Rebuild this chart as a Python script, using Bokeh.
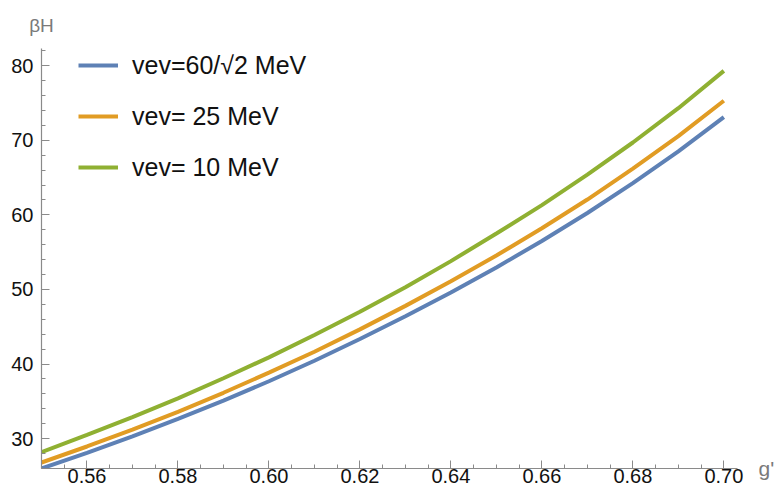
from bokeh.plotting import figure
from bokeh.models import (Range1d, SingleIntervalTicker, NumeralTickFormatter,
                          FixedTicker, LinearAxis, Legend, LegendItem)
from bokeh.embed import file_html
from bokeh.resources import INLINE

# ---- data ----
g_prime = [0.55, 0.56, 0.57, 0.58, 0.59, 0.60, 0.61, 0.62,
           0.63, 0.64, 0.65, 0.66, 0.67, 0.68, 0.69, 0.70]
beta_h_vev_60_sqrt2 = [26.0, 28.1, 30.3, 32.65, 35.1, 37.7, 40.45, 43.35,
                       46.4, 49.6, 52.95, 56.5, 60.25, 64.25, 68.5, 73.1]
beta_h_vev_25 = [26.8, 28.95, 31.2, 33.6, 36.15, 38.85, 41.65, 44.65,
                 47.8, 51.1, 54.55, 58.2, 62.05, 66.2, 70.55, 75.3]
beta_h_vev_10 = [28.2, 30.5, 32.9, 35.4, 38.1, 40.9, 43.9, 47.0,
                 50.3, 53.8, 57.5, 61.3, 65.4, 69.7, 74.3, 79.3]

series_labels = ["vev=60/\u221a2 MeV", "vev= 25 MeV", "vev= 10 MeV"]
series_colors = ["#5E81B5", "#E19C24", "#8FB032"]

x_label = "g'"
y_label = "\u03b2H"

x_start, x_end = 0.55, 0.703
y_start, y_end = 26.0, 82.3
x_tick_step, y_tick_step = 0.02, 10

FONT = "Liberation Sans"
AXIS_GRAY = "#8a8a8a"
LABEL_GRAY = "#7a7a7a"

p = figure(width=777, height=495, output_backend="svg", toolbar_location=None,
           x_range=Range1d(x_start, x_end), y_range=Range1d(y_start, y_end),
           min_border_left=41, min_border_right=35, min_border_top=48,
           min_border_bottom=27)
p.outline_line_color = None
p.grid.visible = False
p.background_fill_color = "white"
p.border_fill_color = "white"

renderers = []
for ys, c in zip([beta_h_vev_60_sqrt2, beta_h_vev_25, beta_h_vev_10], series_colors):
    r = p.line(g_prime, ys, line_color=c, line_width=4)
    renderers.append(r)

p.xaxis.ticker = SingleIntervalTicker(interval=x_tick_step, num_minor_ticks=4)
p.yaxis.ticker = SingleIntervalTicker(interval=y_tick_step, num_minor_ticks=5)
p.xaxis.formatter = NumeralTickFormatter(format="0.00")

for ax in (p.xaxis[0], p.yaxis[0]):
    ax.axis_line_color = AXIS_GRAY
    ax.axis_line_width = 1.2
    ax.major_tick_line_color = AXIS_GRAY
    ax.minor_tick_line_color = AXIS_GRAY
    ax.major_tick_in = 8
    ax.major_tick_out = 0
    ax.minor_tick_in = 4
    ax.minor_tick_out = 0
    ax.major_label_text_font = FONT
    ax.major_label_text_font_size = "20px"
    ax.major_label_text_color = "#111111"
p.yaxis.major_label_standoff = 8
p.xaxis.major_label_standoff = 0

# axis names placed as in the reference: y name above the axis, x name at its right end
top_axis = LinearAxis(ticker=FixedTicker(ticks=[x_start], minor_ticks=[]),
                      major_label_overrides={x_start: y_label},
                      axis_line_color=None, major_tick_line_color=None,
                      minor_tick_line_color=None, major_label_standoff=7,
                      major_label_text_font=FONT, major_label_text_font_size="19px",
                      major_label_text_color=LABEL_GRAY)
p.add_layout(top_axis, "above")

right_axis = LinearAxis(ticker=FixedTicker(ticks=[y_start], minor_ticks=[]),
                        major_label_overrides={y_start: x_label},
                        axis_line_color=None, major_tick_line_color=None,
                        minor_tick_line_color=None, major_label_standoff=15,
                        major_label_text_font=FONT, major_label_text_font_size="21px",
                        major_label_text_color=LABEL_GRAY)
p.add_layout(right_axis, "right")

legend = Legend(items=[LegendItem(label=l, renderers=[r])
                       for l, r in zip(series_labels, renderers)],
                location=(37, 286), border_line_color=None,
                background_fill_alpha=0, padding=2, margin=0,
                glyph_width=40, glyph_height=30, label_height=30,
                spacing=21, label_standoff=14,
                label_text_font=FONT, label_text_font_size="25px",
                label_text_color="#111111")
p.add_layout(legend)

open("out.html", "w").write(file_html(p, INLINE))
